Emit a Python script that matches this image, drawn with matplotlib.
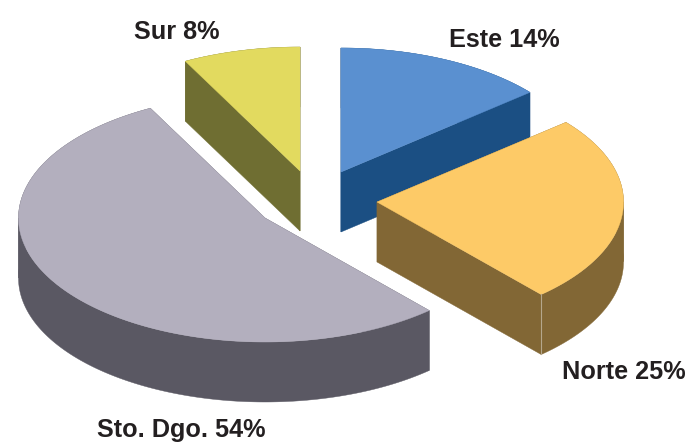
import numpy as np
import matplotlib
matplotlib.use('Agg')
import matplotlib.pyplot as plt
from matplotlib.patches import Polygon

plt.rcParams['font.family'] = ['Liberation Sans', 'DejaVu Sans']

# porcentajes: las etiquetas van redondeadas, los tamaños se leen de la figura
regions = ['Este', 'Norte', 'Sto. Dgo.', 'Sur']
labels = ['14%', '25%', '54%', '8%']
shares = [13.9, 24.5, 53.9, 7.7]
top_colors = ['#5a90d0', '#fdca67', '#b3afbe', '#e2da5f']
side_colors = ['#1b4f83', '#826735', '#5a5863', '#6f6e32']

# geometría del pastel en pixeles
RX, RY = 246.5, 124
DEPTH = 60
apex = {'Este': (341, 172), 'Norte': (377, 202), 'Sto. Dgo.': (265, 218), 'Sur': (300, 171)}
label_pos = {'Este': (449, 47), 'Norte': (562, 379), 'Sto. Dgo.': (97, 437), 'Sur': (134, 39)}
draw_order = ['Este', 'Sur', 'Norte', 'Sto. Dgo.']

fig = plt.figure(figsize=(6.89, 4.43), dpi=100)
ax = fig.add_axes([0, 0, 1, 1])
ax.set_xlim(0, 689)
ax.set_ylim(443, 0)
ax.axis('off')

edges = np.cumsum([0] + shares) / sum(shares) * 2 * np.pi


def wedge_arc(name):
    i = regions.index(name)
    t = np.linspace(edges[i], edges[i + 1], 300)
    cx, cy = apex[name]
    return cx + RX * np.sin(t), cy - RY * np.cos(t)


def draw_side(fx, fy, color):
    # se parte donde x cambia de sentido, si no el relleno deja un hueco
    fx, fy = np.asarray(fx, dtype=float), np.asarray(fy, dtype=float)
    turns = np.where(np.diff(np.sign(np.diff(fx))) != 0)[0] + 1
    start = 0
    for stop in list(turns) + [len(fx) - 1]:
        px, py = fx[start:stop + 1], fy[start:stop + 1]
        xs = np.r_[px, px[::-1]]
        ys = np.r_[py, py[::-1] + DEPTH]
        ax.add_patch(Polygon(np.c_[xs, ys], closed=True, fc=color, ec=color, lw=0.3))
        start = stop


for name in draw_order:
    i = regions.index(name)
    cx, cy = apex[name]
    x, y = wedge_arc(name)
    # caras radiales y borde exterior
    draw_side([cx, x[0]], [cy, y[0]], side_colors[i])
    draw_side([cx, x[-1]], [cy, y[-1]], side_colors[i])
    draw_side(x, y, side_colors[i])
    ax.add_patch(Polygon(np.c_[np.r_[cx, x], np.r_[cy, y]], closed=True,
                         fc=top_colors[i], ec=top_colors[i], lw=0.3))
    if name == 'Norte':
        ax.plot([x[-1], x[-1]], [y[-1], y[-1] + DEPTH], color='#b5a78c', lw=0.8)

for name, pct in zip(regions, labels):
    lx, ly = label_pos[name]
    ax.text(lx, ly, f'{name} {pct}', fontsize=18.2, fontweight='bold', color='#231f20',
            ha='left', va='baseline')

plt.savefig('out.png', dpi=100)
plt.close()
